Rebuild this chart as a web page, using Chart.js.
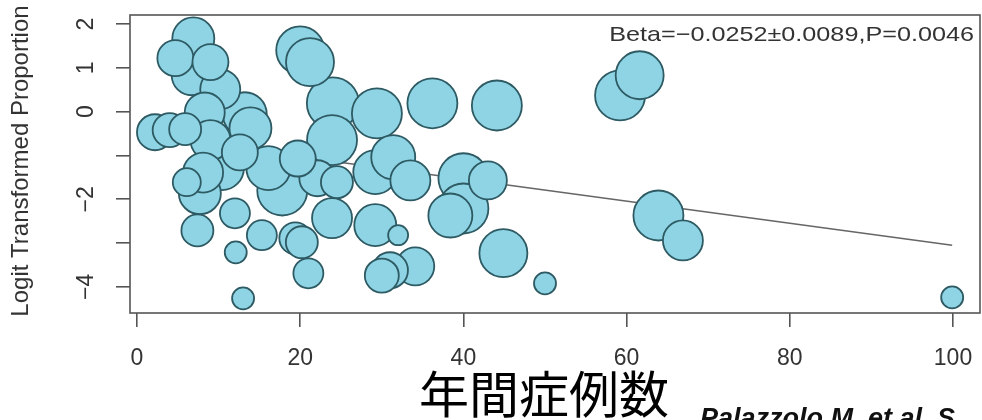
<!DOCTYPE html>
<html><head><meta charset="utf-8">
<script src="https://cdn.jsdelivr.net/npm/chart.js@4.4.1/dist/chart.umd.min.js"></script>
<style>html,body{margin:0;padding:0;background:#fff;}#wrap{width:982px;height:420px;position:relative;}</style>
</head><body><div id="wrap"><canvas id="c" width="982" height="420"></canvas></div>
<script>
// ---- data ----
const annualCases = [6.9,4.7,9.0,6.7,10.2,13.2,13.9,2.2,4.0,5.9,8.3,9.0,12.6,10.4,8.1,7.7,6.1,7.4,12.0,12.1,13.0,15.3,16.1,17.8,22.1,24.5,29.2,23.9,29.2,32.0,19.4,20.2,21.0,30.0,31.0,34.1,20.0,21.2,24.0,29.4,23.9,31.4,33.5,36.2,44.1,40.0,43.0,38.4,40.0,44.9,50.0,59.2,61.6,63.9,66.9,99.9,19.7];
const logitProportion = [1.67,1.22,1.13,0.83,0.51,-0.06,-0.38,-0.47,-0.42,-0.40,-0.02,-0.65,-0.93,-1.29,-1.39,-1.86,-1.61,-2.71,-2.32,-3.21,-4.26,-2.82,-1.29,-1.80,-1.52,-1.61,-1.38,-2.43,-2.59,-2.82,-2.89,-2.98,-3.69,-3.74,-3.62,-3.53,1.40,1.13,0.19,-0.04,-0.65,-1.04,-1.57,0.19,0.14,-1.52,-1.57,-2.37,-2.21,-3.23,-3.92,0.37,0.83,-2.37,-2.94,-4.24,-1.07];
const studyWeights = [2.1,1.8,1.8,2.0,2.0,2.2,2.1,1.8,1.7,1.6,2.0,2.0,1.8,2.2,2.0,2.1,1.4,1.6,1.5,1.1,1.1,1.5,2.2,2.5,1.8,1.6,2.2,2.0,2.1,1.0,1.6,1.6,1.5,1.7,1.8,1.9,2.4,2.4,2.6,2.5,2.5,2.2,2.0,2.5,2.5,2.5,1.9,2.2,2.5,2.4,1.1,2.5,2.4,2.5,2.0,1.1,1.8];
const xTickValues = [0,20,40,60,80,100];
const xTickLabels = ['0','20','40','60','80','100'];
const yTickValues = [-4,-3,-2,-1,0,1,2];
const yTickLabels = ['−4','','−2','','0','1','2'];
const regSlope = -0.0252;
const regIntercept = -0.53;
const annotationText = 'Beta=−0.0252±0.0089,P=0.0046';
const xTitle = '年間症例数';
const yTitle = 'Logit Transformed Proportion';
const citationText = 'Palazzolo M, et al. S';

// ---- build ----
const pxPerWeight = 10;
const order = annualCases.map((_, i) => i).sort((a, b) => studyWeights[b] - studyWeights[a]);
const bubbleData = order.map(i => ({x: annualCases[i], y: logitProportion[i], r: studyWeights[i] * pxPerWeight}));
const xMinData = Math.min(...annualCases), xMaxData = Math.max(...annualCases);
const lineData = [xMinData, xMaxData].map(x => ({x: x, y: regIntercept + regSlope * x}));

const FONT = '"Liberation Sans", Arial, Helvetica, sans-serif';

const decor = {
  id: 'decor',
  afterDatasetsDraw(chart) {
    const {ctx, chartArea: a} = chart;
    ctx.save();
    ctx.strokeStyle = '#555';
    ctx.lineWidth = 1.6;
    ctx.strokeRect(a.left, a.top, a.right - a.left, a.bottom - a.top);
    ctx.restore();
  },
  afterDraw(chart) {
    const {ctx, chartArea: a, scales} = chart;
    const ys = scales.y;
    ctx.save();
    ctx.fillStyle = '#333';
    ctx.font = '23px ' + FONT;
    ctx.textAlign = 'center';
    ctx.textBaseline = 'middle';
    yTickValues.forEach((v, i) => {
      if (!yTickLabels[i]) return;
      const py = ys.getPixelForValue(v);
      ctx.save();
      ctx.translate(87, py);
      ctx.rotate(-Math.PI / 2);
      ctx.fillText(yTickLabels[i], 0, 0);
      ctx.restore();
    });
    ctx.font = '24px ' + FONT;
    ctx.save();
    ctx.translate(21, (a.top + a.bottom) / 2 - 3);
    ctx.rotate(-Math.PI / 2);
    ctx.fillText(yTitle, 0, 0);
    ctx.restore();
    ctx.save();
    ctx.font = '21px ' + FONT;
    ctx.textAlign = 'right';
    ctx.translate(a.right - 6, a.top + 20);
    ctx.scale(1.2, 1);
    ctx.fillText(annotationText, 0, 0);
    ctx.restore();
    ctx.fillStyle = '#000';
    ctx.font = '50px "Noto Sans CJK JP", sans-serif';
    ctx.textAlign = 'center';
    ctx.textBaseline = 'alphabetic';
    ctx.fillText(xTitle, 544, 413);
    ctx.font = 'italic bold 27px ' + FONT;
    ctx.textAlign = 'left';
    ctx.textBaseline = 'alphabetic';
    ctx.fillStyle = '#111';
    ctx.fillText(citationText, 700, 427);
    ctx.restore();
  }
};

new Chart(document.getElementById('c'), {
  type: 'bubble',
  data: {
    datasets: [
      {
        type: 'line', label: 'regression', data: lineData, order: 2,
        borderColor: '#666', borderWidth: 1.6, pointRadius: 0, fill: false, tension: 0
      },
      {
        type: 'bubble', label: 'studies', data: bubbleData, order: 1,
        backgroundColor: '#8fd4e4', borderColor: '#2d5a63', borderWidth: 1.8,
        hoverRadius: 0
      }
    ]
  },
  options: {
    responsive: false, animation: false, devicePixelRatio: 1,
    layout: {autoPadding: false, padding: {left: 0, right: 2, top: 15, bottom: 0}},
    plugins: {legend: {display: false}, tooltip: {enabled: false}, title: {display: false}},
    scales: {
      x: {
        type: 'linear', min: -0.86, max: 103.31,
        afterBuildTicks: s => { s.ticks = xTickValues.map(v => ({value: v})); },
        afterFit: s => { s.height = 107; s.paddingLeft = 0; s.paddingRight = 0; },
        grid: {display: true, drawOnChartArea: false, drawTicks: true, tickLength: 14, color: '#555', lineWidth: 1.6},
        border: {display: false},
        ticks: {
          color: '#333', font: {size: 23, family: FONT}, padding: 18, maxRotation: 0, autoSkip: false,
          callback: (v) => { const i = xTickValues.indexOf(v); return i >= 0 ? xTickLabels[i] : ''; }
        }
      },
      y: {
        type: 'linear', min: -4.595, max: 2.205,
        afterBuildTicks: s => { s.ticks = yTickValues.map(v => ({value: v})); },
        afterFit: s => { s.width = 130; },
        grid: {display: true, drawOnChartArea: false, drawTicks: true, tickLength: 14, color: '#555', lineWidth: 1.6},
        border: {display: false},
        ticks: {display: false}
      }
    }
  },
  plugins: [decor]
});
</script></body></html>
